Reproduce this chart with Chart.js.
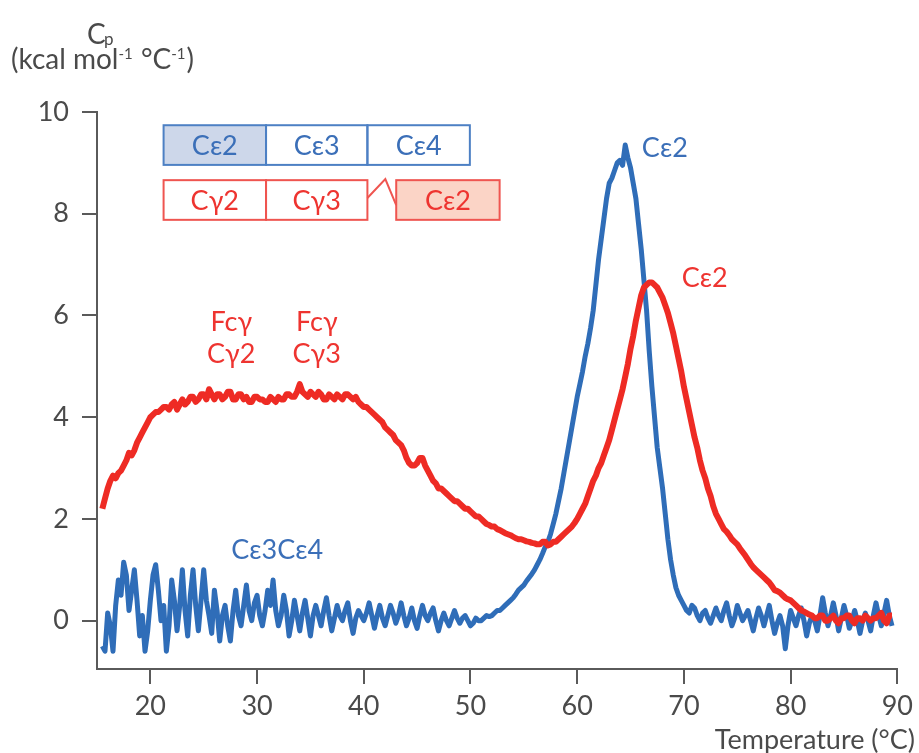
<!DOCTYPE html>
<html>
<head>
<meta charset="utf-8">
<script src="https://cdn.jsdelivr.net/npm/chart.js@4.4.0/dist/chart.umd.min.js"></script>
<style>
  html, body { margin: 0; padding: 0; background: #fff; }
  #wrap { position: relative; width: 919px; height: 753px; }
</style>
</head>
<body>
<div id="wrap"><canvas id="dscChart" width="919" height="753"></canvas></div>
<script>
// Temperatura (°C), leitura a cada 0,25 °C
const temps = [
  15.5, 15.75, 16, 16.25, 16.5, 16.75, 17, 17.25,
  17.5, 17.75, 18, 18.25, 18.5, 18.75, 19, 19.25,
  19.5, 19.75, 20, 20.25, 20.5, 20.75, 21, 21.25,
  21.5, 21.75, 22, 22.25, 22.5, 22.75, 23, 23.25,
  23.5, 23.75, 24, 24.25, 24.5, 24.75, 25, 25.25,
  25.5, 25.75, 26, 26.25, 26.5, 26.75, 27, 27.25,
  27.5, 27.75, 28, 28.25, 28.5, 28.75, 29, 29.25,
  29.5, 29.75, 30, 30.25, 30.5, 30.75, 31, 31.25,
  31.5, 31.75, 32, 32.25, 32.5, 32.75, 33, 33.25,
  33.5, 33.75, 34, 34.25, 34.5, 34.75, 35, 35.25,
  35.5, 35.75, 36, 36.25, 36.5, 36.75, 37, 37.25,
  37.5, 37.75, 38, 38.25, 38.5, 38.75, 39, 39.25,
  39.5, 39.75, 40, 40.25, 40.5, 40.75, 41, 41.25,
  41.5, 41.75, 42, 42.25, 42.5, 42.75, 43, 43.25,
  43.5, 43.75, 44, 44.25, 44.5, 44.75, 45, 45.25,
  45.5, 45.75, 46, 46.25, 46.5, 46.75, 47, 47.25,
  47.5, 47.75, 48, 48.25, 48.5, 48.75, 49, 49.25,
  49.5, 49.75, 50, 50.25, 50.5, 50.75, 51, 51.25,
  51.5, 51.75, 52, 52.25, 52.5, 52.75, 53, 53.25,
  53.5, 53.75, 54, 54.25, 54.5, 54.75, 55, 55.25,
  55.5, 55.75, 56, 56.25, 56.5, 56.75, 57, 57.25,
  57.5, 57.75, 58, 58.25, 58.5, 58.75, 59, 59.25,
  59.5, 59.75, 60, 60.25, 60.5, 60.75, 61, 61.25,
  61.5, 61.75, 62, 62.25, 62.5, 62.75, 63, 63.25,
  63.5, 63.75, 64, 64.25, 64.5, 64.75, 65, 65.25,
  65.5, 65.75, 66, 66.25, 66.5, 66.75, 67, 67.25,
  67.5, 67.75, 68, 68.25, 68.5, 68.75, 69, 69.25,
  69.5, 69.75, 70, 70.25, 70.5, 70.75, 71, 71.25,
  71.5, 71.75, 72, 72.25, 72.5, 72.75, 73, 73.25,
  73.5, 73.75, 74, 74.25, 74.5, 74.75, 75, 75.25,
  75.5, 75.75, 76, 76.25, 76.5, 76.75, 77, 77.25,
  77.5, 77.75, 78, 78.25, 78.5, 78.75, 79, 79.25,
  79.5, 79.75, 80, 80.25, 80.5, 80.75, 81, 81.25,
  81.5, 81.75, 82, 82.25, 82.5, 82.75, 83, 83.25,
  83.5, 83.75, 84, 84.25, 84.5, 84.75, 85, 85.25,
  85.5, 85.75, 86, 86.25, 86.5, 86.75, 87, 87.25,
  87.5, 87.75, 88, 88.25, 88.5, 88.75, 89, 89.25,
  89.5
];

// Cp da IgE Fc (Cε2-Cε3-Cε4), curva azul
const cpIgE = [
  -0.5, -0.6, 0.15, -0.1, -0.6, 0.3, 0.8, 0.5,
  1.15, 0.9, 0.2, 0.6, 1.0, 0.4, -0.3, 0.1,
  -0.6, -0.2, 0.4, 0.9, 1.1, 0.6, 0.0, 0.3,
  -0.6, -0.1, 0.8, 0.4, -0.2, 0.3, 1.0, 0.2,
  -0.3, 0.5, 1.0, 0.3, -0.2, 0.4, 1.0, 0.4,
  0.1, -0.25, 0.6, 0.2, -0.4, 0.1, 0.3, -0.1,
  -0.4, 0.2, 0.6, 0.1, -0.1, 0.3, 0.7, 0.2,
  0.0, 0.35, 0.5, 0.1, -0.1, 0.2, 0.6, 0.3,
  0.8, 0.2, -0.1, 0.1, 0.5, 0.2, -0.3, 0.0,
  0.4, 0.1, -0.2, 0.15, 0.4, 0.05, -0.3, 0.1,
  0.3, 0.1, -0.1, 0.2, 0.45, 0.1, -0.2, 0.05,
  0.3, 0.1, 0.0, 0.2, 0.35, 0.0, -0.25, 0.05,
  0.2, 0.1, 0.0, 0.15, 0.35, 0.1, -0.15, 0.1,
  0.3, 0.05, -0.1, 0.1, 0.3, 0.15, -0.05, 0.1,
  0.35, 0.1, -0.1, 0.05, 0.25, 0.0, -0.15, 0.1,
  0.3, 0.1, 0.0, 0.15, 0.25, 0.0, -0.2, 0.0,
  0.15, 0.0, -0.1, 0.05, 0.2, 0.05, -0.05, 0.05,
  0.1, 0.0, -0.1, -0.05, 0.05, 0.0, 0.0, 0.05,
  0.1, 0.08, 0.1, 0.15, 0.2, 0.2, 0.25, 0.3,
  0.35, 0.4, 0.45, 0.52, 0.6, 0.65, 0.7, 0.78,
  0.85, 0.92, 1.0, 1.1, 1.2, 1.32, 1.45, 1.55,
  1.7, 1.9, 2.1, 2.35, 2.6, 2.9, 3.2, 3.5,
  3.8, 4.1, 4.4, 4.65, 4.9, 5.2, 5.45, 5.75,
  6.1, 6.6, 7.1, 7.5, 7.9, 8.3, 8.6, 8.7,
  8.85, 9.0, 9.05, 8.95, 9.35, 9.1, 8.9, 8.6,
  8.3, 7.8, 7.3, 6.7, 6.1, 5.3, 4.6, 4.0,
  3.4, 3.0, 2.6, 2.1, 1.6, 1.2, 0.9, 0.65,
  0.5, 0.4, 0.3, 0.2, 0.15, 0.3, 0.25, 0.1,
  0.0, 0.15, 0.2, 0.05, -0.05, 0.1, 0.25, 0.1,
  0.0, 0.2, 0.35, 0.1, -0.1, 0.05, 0.3, 0.15,
  0.0, 0.1, 0.2, 0.0, -0.2, 0.05, 0.25, 0.1,
  -0.1, 0.1, 0.3, 0.0, -0.25, -0.05, 0.1, -0.1,
  -0.55, -0.1, 0.2, 0.05, -0.1, 0.1, 0.25, 0.0,
  -0.3, -0.05, 0.1, 0.0, -0.2, 0.1, 0.45, 0.15,
  -0.1, 0.1, 0.35, 0.1, -0.2, 0.05, 0.3, 0.1,
  -0.15, 0.0, 0.2, 0.0, -0.25, 0.0, 0.15, 0.0,
  -0.2, 0.1, 0.35, 0.1, -0.1, 0.15, 0.4, 0.1,
  -0.1
];

// Cp da quimera Fcγ (Cγ2-Cγ3-Cε2), curva vermelha
const cpChimera = [
  2.2, 2.4, 2.6, 2.75, 2.85, 2.8, 2.9, 2.95,
  3.05, 3.15, 3.3, 3.25, 3.35, 3.5, 3.6, 3.7,
  3.8, 3.9, 4.0, 4.05, 4.1, 4.1, 4.15, 4.2,
  4.2, 4.15, 4.25, 4.3, 4.15, 4.25, 4.35, 4.25,
  4.3, 4.4, 4.4, 4.3, 4.35, 4.45, 4.45, 4.35,
  4.55, 4.45, 4.35, 4.45, 4.45, 4.35, 4.4, 4.5,
  4.5, 4.35, 4.35, 4.45, 4.45, 4.35, 4.4, 4.3,
  4.3, 4.4, 4.4, 4.35, 4.35, 4.3, 4.3, 4.4,
  4.35, 4.3, 4.4, 4.35, 4.35, 4.45, 4.45, 4.4,
  4.4, 4.5, 4.65, 4.5, 4.45, 4.4, 4.5, 4.45,
  4.4, 4.5, 4.45, 4.35, 4.35, 4.45, 4.4, 4.35,
  4.45, 4.4, 4.35, 4.45, 4.45, 4.4, 4.35, 4.4,
  4.3, 4.25, 4.2, 4.2, 4.15, 4.1, 4.05, 4.0,
  3.95, 3.9, 3.8, 3.75, 3.7, 3.65, 3.55, 3.5,
  3.45, 3.35, 3.2, 3.1, 3.05, 3.05, 3.1, 3.2,
  3.2, 3.05, 2.95, 2.85, 2.75, 2.7, 2.6, 2.6,
  2.55, 2.5, 2.45, 2.4, 2.35, 2.35, 2.3, 2.25,
  2.2, 2.2, 2.15, 2.1, 2.05, 2.05, 2.0, 1.95,
  1.9, 1.88, 1.85, 1.85, 1.8, 1.78, 1.75, 1.72,
  1.7, 1.68, 1.65, 1.62, 1.6, 1.6, 1.58, 1.56,
  1.55, 1.53, 1.52, 1.5, 1.5, 1.55, 1.55, 1.48,
  1.5, 1.55, 1.55, 1.6, 1.65, 1.7, 1.75, 1.8,
  1.85, 1.92, 2.0, 2.1, 2.2, 2.3, 2.45, 2.6,
  2.75, 2.85, 3.0, 3.1, 3.25, 3.4, 3.55, 3.75,
  3.95, 4.15, 4.35, 4.55, 4.8, 5.05, 5.35, 5.6,
  5.9, 6.15, 6.4, 6.55, 6.6, 6.65, 6.65, 6.6,
  6.55, 6.45, 6.35, 6.2, 6.05, 5.85, 5.65, 5.4,
  5.15, 4.9, 4.6, 4.35, 4.1, 3.85, 3.6, 3.4,
  3.15, 2.95, 2.8, 2.6, 2.45, 2.25, 2.1, 2.0,
  1.9, 1.8, 1.75, 1.68, 1.6, 1.55, 1.5, 1.42,
  1.35, 1.28, 1.2, 1.12, 1.05, 1.0, 0.95, 0.9,
  0.85, 0.8, 0.75, 0.68, 0.6, 0.58, 0.55, 0.5,
  0.45, 0.42, 0.4, 0.35, 0.3, 0.25, 0.2, 0.18,
  0.15, 0.12, 0.1, 0.05, 0.05, 0.1, 0.1, 0.0,
  0.0, 0.05, 0.1, 0.0, -0.05, 0.05, 0.05, 0.1,
  0.1, 0.0, -0.05, 0.05, 0.05, 0.0, 0.1, 0.05,
  0.0, 0.05, 0.05, 0.1, 0.15, 0.0, -0.05, 0.1,
  0.1
];

const xTicks = [20, 30, 40, 50, 60, 70, 80, 90];
const yTicks = [0, 2, 4, 6, 8, 10];

const AZUL = '#2f6db8';
const VERMELHO = '#ee2b24';
const EIXO = '#5a5a5a';
const TEXTO = '#4a4a4a';
const FONTE = 'Lato, "Open Sans", "DejaVu Sans", sans-serif';
const TAM = 27;

Chart.defaults.font.family = FONTE;

// Desenha os rótulos e o diagrama de domínios
function caixa(ctx, xs, ys, x0, x1, yTop, yBot, fundo, borda, texto, corTexto) {
  const l = xs.getPixelForValue(x0), r = xs.getPixelForValue(x1);
  const t = ys.getPixelForValue(yTop), b = ys.getPixelForValue(yBot);
  if (fundo) {
    ctx.fillStyle = fundo;
    ctx.fillRect(l, t, r - l, b - t);
  }
  ctx.strokeStyle = borda;
  ctx.lineWidth = 2;
  ctx.strokeRect(l, t, r - l, b - t);
  ctx.fillStyle = corTexto;
  ctx.textAlign = 'center';
  ctx.textBaseline = 'middle';
  ctx.fillText(texto, (l + r) / 2, (t + b) / 2 + 1);
}

function rotulo(ctx, xs, ys, x, y, texto, cor, align) {
  ctx.fillStyle = cor;
  ctx.textAlign = align || 'center';
  ctx.textBaseline = 'middle';
  ctx.fillText(texto, xs.getPixelForValue(x), ys.getPixelForValue(y));
}

const anotacoes = {
  id: 'anotacoes',
  afterDatasetsDraw(chart) {
    const ctx = chart.ctx;
    const xs = chart.scales.x, ys = chart.scales.y;
    ctx.save();
    ctx.font = TAM + 'px ' + FONTE;

    // linha azul: Cε2 Cε3 Cε4
    const azulBorda = '#4d80c4', azulTxt = '#3b6fb8';
    caixa(ctx, xs, ys, 21.24, 30.84, 9.74, 8.96, '#cdd7ea', azulBorda, 'Cε2', azulTxt);
    caixa(ctx, xs, ys, 30.84, 40.34, 9.74, 8.96, null, azulBorda, 'Cε3', azulTxt);
    caixa(ctx, xs, ys, 40.34, 49.94, 9.74, 8.96, null, azulBorda, 'Cε4', azulTxt);

    // linha vermelha: Cγ2 Cγ3 ~ Cε2
    const vermBorda = '#ef5550', vermTxt = '#ee3430';
    caixa(ctx, xs, ys, 21.24, 30.84, 8.66, 7.88, null, vermBorda, 'Cγ2', vermTxt);
    caixa(ctx, xs, ys, 30.84, 40.34, 8.66, 7.88, null, vermBorda, 'Cγ3', vermTxt);
    caixa(ctx, xs, ys, 43.04, 52.73, 8.66, 7.88, '#fbd4c6', vermBorda, 'Cε2', vermTxt);
    ctx.strokeStyle = vermBorda;
    ctx.lineWidth = 2;
    ctx.beginPath();
    ctx.moveTo(xs.getPixelForValue(40.34), ys.getPixelForValue(8.31));
    ctx.lineTo(xs.getPixelForValue(42.02), ys.getPixelForValue(8.68));
    ctx.lineTo(xs.getPixelForValue(43.04), ys.getPixelForValue(8.17));
    ctx.stroke();

    // rótulos das curvas
    rotulo(ctx, xs, ys, 66.06, 9.29, 'Cε2', azulTxt, 'left');
    rotulo(ctx, xs, ys, 69.79, 6.74, 'Cε2', vermTxt, 'left');
    rotulo(ctx, xs, ys, 27.58, 5.87, 'Fcγ', vermTxt);
    rotulo(ctx, xs, ys, 27.58, 5.23, 'Cγ2', vermTxt);
    rotulo(ctx, xs, ys, 35.59, 5.87, 'Fcγ', vermTxt);
    rotulo(ctx, xs, ys, 35.59, 5.23, 'Cγ3', vermTxt);
    rotulo(ctx, xs, ys, 27.58, 1.39, 'Cε3Cε4', azulTxt, 'left');
    ctx.restore();
  },
  afterDraw(chart) {
    const ctx = chart.ctx;
    ctx.save();
    ctx.fillStyle = TEXTO;
    ctx.textBaseline = 'alphabetic';
    ctx.textAlign = 'left';

    // título do eixo y: Cp (kcal mol-1 °C-1)
    ctx.font = '28px ' + FONTE;
    ctx.fillText('C', 87, 44);
    ctx.font = '17px ' + FONTE;
    ctx.fillText('p', 104, 45);

    const partes = [
      ['(kcal mol', 28, 0], ['-1', 15, -10], [' °C', 28, 0], ['-1', 15, -10], [')', 28, 0]
    ];
    let px = 11;
    partes.forEach(([s, tam, dy]) => {
      ctx.font = tam + 'px ' + FONTE;
      ctx.fillText(s, px, 69 + dy);
      px += ctx.measureText(s).width + (tam < 20 ? 1 : 0);
    });

    // título do eixo x
    ctx.font = TAM + 'px ' + FONTE;
    ctx.textBaseline = 'middle';
    ctx.textAlign = 'right';
    ctx.fillText('Temperature (°C)', 915, 740);
    ctx.restore();
  }
};

const ctx = document.getElementById('dscChart').getContext('2d');
const dscChart = new Chart(ctx, {
  type: 'line',
  data: {
    datasets: [
      {
        label: 'Fcγ–Cε2',
        data: temps.map((t, i) => ({ x: t, y: cpChimera[i] })),
        borderColor: VERMELHO,
        borderWidth: 6,
        borderJoinStyle: 'round',
        pointRadius: 0,
        tension: 0
      },
      {
        label: 'IgE Fc',
        data: temps.map((t, i) => ({ x: t, y: cpIgE[i] })),
        borderColor: AZUL,
        borderWidth: 5,
        borderJoinStyle: 'round',
        pointRadius: 0,
        tension: 0
      }
    ]
  },
  options: {
    responsive: false,
    animation: false,
    devicePixelRatio: 1,
    layout: { padding: { top: 112, right: 17, left: 0, bottom: 0 } },
    plugins: {
      legend: { display: false },
      tooltip: { enabled: false }
    },
    scales: {
      x: {
        type: 'linear',
        min: 15,
        max: 90,
        afterBuildTicks: s => { s.ticks = xTicks.map(v => ({ value: v })); },
        afterFit: s => { s.height = 84; },
        grid: { display: true, drawOnChartArea: false, drawTicks: true, tickLength: 15, color: EIXO, lineWidth: 2 },
        border: { display: true, color: EIXO, width: 2 },
        ticks: { padding: 6, color: TEXTO, font: { size: TAM }, maxRotation: 0 }
      },
      y: {
        type: 'linear',
        min: -0.95,
        max: 10,
        afterBuildTicks: s => { s.ticks = yTicks.map(v => ({ value: v })); },
        afterFit: s => { s.width = 97; },
        grid: { display: true, drawOnChartArea: false, drawTicks: true, tickLength: 15, color: EIXO, lineWidth: 2 },
        border: { display: true, color: EIXO, width: 2 },
        ticks: { padding: 13, color: TEXTO, font: { size: TAM } }
      }
    }
  },
  plugins: [anotacoes]
});
</script>
</body>
</html>
